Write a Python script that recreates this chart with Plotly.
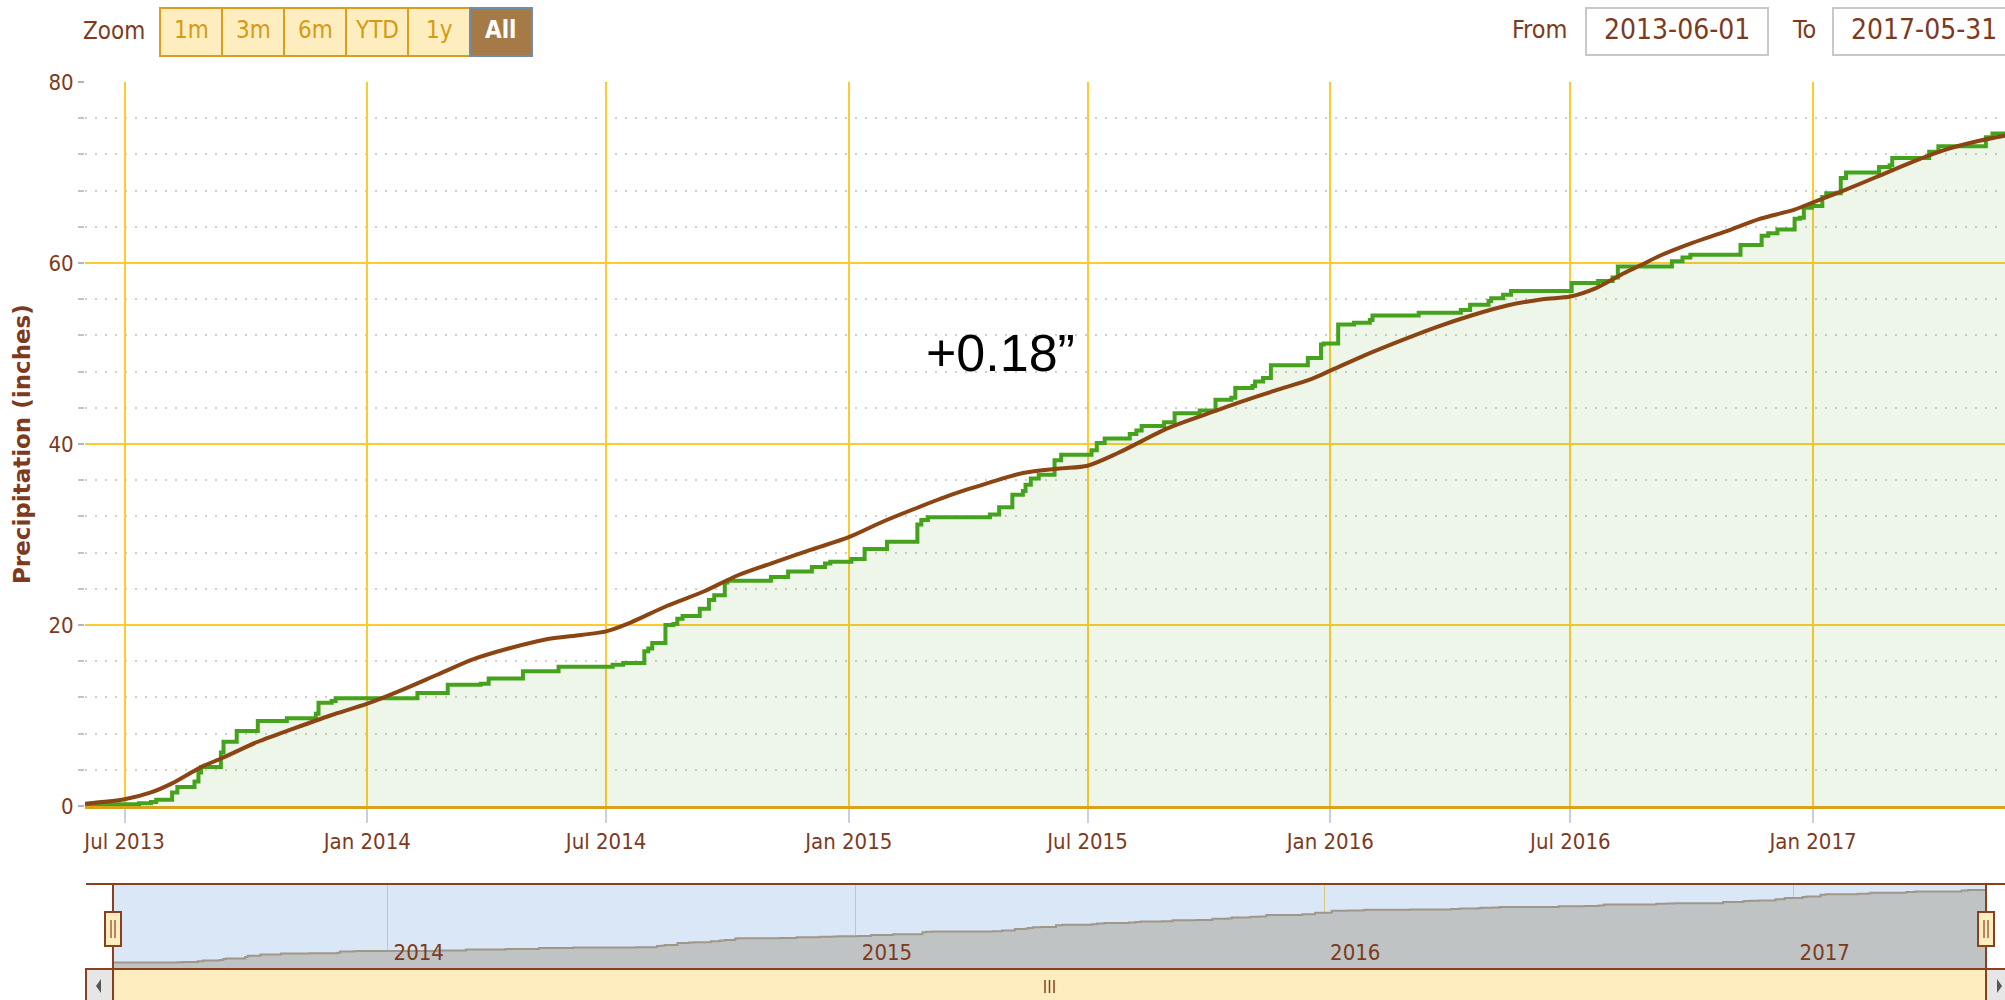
import plotly.graph_objects as go

W, H = 2005, 1000


def fx(p):
    return p / W


def fy(p):
    return 1 - p / H


# ---------------- data ----------------
obs_dates = [
    "2013-06-01", "2013-07-12", "2013-07-21", "2013-07-25", "2013-08-06", "2013-08-10",
    "2013-08-23", "2013-08-26", "2013-08-28", "2013-09-12", "2013-09-14", "2013-09-24",
    "2013-10-10", "2013-11-01", "2013-11-23", "2013-11-25", "2013-12-05", "2013-12-08",
    "2014-02-08", "2014-03-03", "2014-03-28", "2014-04-03", "2014-04-29", "2014-05-26",
    "2014-07-06", "2014-07-14", "2014-07-30", "2014-08-02", "2014-08-05", "2014-08-15",
    "2014-08-21", "2014-08-24", "2014-08-28", "2014-09-10", "2014-09-17", "2014-09-21",
    "2014-09-29", "2014-10-01", "2014-11-03", "2014-11-16", "2014-12-04", "2014-12-14",
    "2014-12-18", "2015-01-03", "2015-01-13", "2015-01-30", "2015-02-22", "2015-02-25",
    "2015-03-02", "2015-04-18", "2015-04-25", "2015-05-05", "2015-05-13", "2015-05-15",
    "2015-05-19", "2015-05-25", "2015-06-06", "2015-06-11", "2015-07-04", "2015-07-08",
    "2015-07-14", "2015-08-02", "2015-08-07", "2015-08-11", "2015-08-28", "2015-09-05",
    "2015-09-24", "2015-10-06", "2015-10-18", "2015-10-21", "2015-11-03", "2015-11-05",
    "2015-11-11", "2015-11-17", "2015-12-15", "2015-12-25", "2015-12-27", "2016-01-07",
    "2016-01-19", "2016-01-31", "2016-02-02", "2016-03-08", "2016-04-09", "2016-04-16",
    "2016-04-30", "2016-05-02", "2016-05-11", "2016-05-17", "2016-07-02", "2016-07-22",
    "2016-08-02", "2016-08-06", "2016-09-16", "2016-09-24", "2016-09-30", "2016-11-07",
    "2016-11-23", "2016-11-28", "2016-12-05", "2016-12-18", "2016-12-22", "2016-12-25",
    "2016-12-31", "2017-01-08", "2017-01-11", "2017-01-22", "2017-01-26", "2017-02-20",
    "2017-02-28", "2017-03-02", "2017-03-30", "2017-04-06", "2017-05-12", "2017-05-17",
    "2017-05-31",
]
obs_values = [
    0.2, 0.3, 0.45, 0.7, 1.5, 2.1,
    2.7, 3.7, 4.3, 5.9, 7.1, 8.3,
    9.4, 9.7, 10.2, 11.4, 11.6, 11.9,
    12.5, 13.4, 13.5, 14.1, 14.9, 15.4,
    15.6, 15.8, 17.1, 17.4, 18.0, 20.0,
    20.1, 20.7, 21.0, 21.8, 22.75, 23.3,
    24.7, 24.9, 25.3, 25.9, 26.4, 26.8,
    27.0, 27.3, 28.4, 29.2, 31.1, 31.6,
    31.9, 32.2, 33.0, 34.4, 34.8, 35.5,
    36.2, 36.6, 38.2, 38.8, 39.3, 40.1,
    40.6, 41.1, 41.5, 42.0, 42.4, 43.4,
    43.7, 44.9, 45.1, 46.2, 46.4, 46.9,
    47.3, 48.7, 49.5, 51.0, 51.1, 53.2,
    53.4, 53.7, 54.2, 54.5, 54.8, 55.4,
    55.8, 56.1, 56.5, 56.9, 57.8, 58.0,
    58.4, 59.6, 60.2, 60.6, 60.9, 62.0,
    63.0, 63.3, 63.7, 64.9, 65.0, 66.1,
    66.3, 67.3, 67.7, 69.4, 70.0, 70.6,
    70.8, 71.6, 72.3, 72.9, 73.9, 74.3,
    74.4,
]

norm_dates = [
    "2013-06-01", "2013-07-01", "2013-07-21", "2013-08-06", "2013-08-28", "2013-09-13",
    "2013-10-10", "2013-11-06", "2013-12-04", "2014-01-01", "2014-01-27", "2014-02-23",
    "2014-03-22", "2014-04-18", "2014-05-16", "2014-06-12", "2014-07-01", "2014-07-20",
    "2014-08-16", "2014-09-13", "2014-10-09", "2014-11-05", "2014-12-03", "2015-01-01",
    "2015-01-25", "2015-02-21", "2015-03-20", "2015-04-17", "2015-05-13", "2015-06-10",
    "2015-07-01", "2015-07-24", "2015-08-31", "2015-09-27", "2015-10-24", "2015-11-20",
    "2015-12-18", "2016-01-01", "2016-01-27", "2016-02-23", "2016-03-21", "2016-04-17",
    "2016-05-14", "2016-06-10", "2016-07-01", "2016-07-20", "2016-08-11", "2016-08-24",
    "2016-09-06", "2016-10-01", "2016-10-27", "2016-11-21", "2016-12-18", "2017-01-01",
    "2017-01-24", "2017-02-18", "2017-03-16", "2017-04-11", "2017-05-07", "2017-05-31",
]
norm_values = [
    0.26, 0.74, 1.5, 2.5, 4.3, 5.3,
    7.1, 8.55, 10.0, 11.3, 12.8, 14.5,
    16.2, 17.4, 18.4, 18.9, 19.3, 20.3,
    22.1, 23.7, 25.5, 26.9, 28.3, 29.7,
    31.3, 32.9, 34.4, 35.7, 36.8, 37.3,
    37.6, 39.0, 41.75, 43.2, 44.6, 45.9,
    47.2, 48.1, 49.8, 51.4, 52.9, 54.2,
    55.3, 56.0, 56.3, 57.2, 58.9, 59.8,
    60.75, 62.2, 63.5, 64.85, 65.9, 66.7,
    68.0, 69.5, 71.1, 72.5, 73.5, 74.2,
]

x_start = "2013-06-01"
x_end = "2017-05-31"
x_visible_end = "2017-05-26 12:00"
y_range = [0, 80]
nav_y_range = [-7.5, 80.5]
zoom_buttons = ["1m", "3m", "6m", "YTD", "1y", "All"]
from_label, from_value = "From", "2013-06-01"
to_label, to_value = "To", "2017-05-31"
diff_text = "+0.18\u201d"
y_title = "Precipitation (inches)"

# ---------------- styles ----------------
TXT = "#7d3a1d"
GOLD = "#fdca30"
AXIS_GOLD = "#d8a21c"
GREEN = "#45a21d"
BROWN = "#8b4513"
OUTLINE = "#8a3f1e"
PALE = "#feedbf"
FONT = "DejaVu Sans Condensed, Liberation Sans Narrow, DejaVu Sans, sans-serif"

fig = go.Figure()

fig.add_trace(go.Scatter(
    x=obs_dates, y=obs_values, mode="lines", xaxis="x", yaxis="y",
    line=dict(color=GREEN, width=4, shape="hv"),
    fill="tozeroy", fillcolor="rgba(95,170,50,0.11)", hoverinfo="skip", showlegend=False))
fig.add_trace(go.Scatter(
    x=norm_dates, y=norm_values, mode="lines", xaxis="x", yaxis="y",
    line=dict(color=BROWN, width=4, shape="spline", smoothing=0.8),
    hoverinfo="skip", showlegend=False))
# navigator
fig.add_trace(go.Scatter(
    x=[x_start, x_end], y=[nav_y_range[0], nav_y_range[0]], mode="lines",
    xaxis="x2", yaxis="y2", line=dict(width=0), hoverinfo="skip", showlegend=False))
fig.add_trace(go.Scatter(
    x=obs_dates, y=obs_values, mode="lines", xaxis="x2", yaxis="y2",
    line=dict(color="#a0978b", width=2, shape="hv"),
    fill="tonexty", fillcolor="#c0c3c4", hoverinfo="skip", showlegend=False))

shapes = []
annotations = []


def rect(x0, y0, x1, y1, fill, line, lw=1.5, layer="above"):
    shapes.append(dict(type="rect", xref="paper", yref="paper",
                       x0=fx(x0), x1=fx(x1), y0=fy(y0), y1=fy(y1),
                       fillcolor=fill, line=dict(color=line, width=lw), layer=layer))


def line(x0, y0, x1, y1, color, lw=1.5):
    shapes.append(dict(type="line", xref="paper", yref="paper",
                       x0=fx(x0), x1=fx(x1), y0=fy(y0), y1=fy(y1),
                       line=dict(color=color, width=lw)))


def text(x, y, s, size, color, xanchor="center", family=FONT):
    annotations.append(dict(xref="paper", yref="paper", x=fx(x), y=fy(y), text=s,
                            showarrow=False, xanchor=xanchor, yanchor="middle",
                            font=dict(size=size, color=color, family=family)))


# navigator background
shapes.append(dict(type="rect", xref="x2 domain", yref="y2 domain", x0=0, x1=1, y0=0, y1=1,
                   fillcolor="#dae7f7", line=dict(width=0), layer="below"))

# range selector
text(147, 31, "Zoom", 24, TXT, xanchor="right")
bx0, bw = 160, 62
for i, lab in enumerate(zoom_buttons):
    x0 = bx0 + i * bw
    if lab == "All":
        rect(x0, 8, x0 + bw, 56, "#a67a46", "#6f8eae", 2)
        text(x0 + bw / 2, 30, "<b>" + lab + "</b>", 24, "#ffffff")
    else:
        rect(x0, 8, x0 + bw, 56, PALE, "#d89e1c", 2)
        text(x0 + bw / 2, 30, lab, 24, "#d69a12")

# date inputs
text(1569, 29, from_label, 25, TXT, xanchor="right")
rect(1586, 8, 1768, 55, "#ffffff", "#c8c8c8", 2)
text(1677, 29, from_value, 28, TXT)
text(1790, 29, to_label, 25, TXT, xanchor="left")
rect(1833, 8, 2015, 55, "#ffffff", "#c8c8c8", 2)
text(1849, 29, to_value, 28, TXT, xanchor="left")

# navigator outline
line(86, 884, 2005, 884, OUTLINE, 2)
line(113, 884, 113, 969, OUTLINE, 2)
line(1986, 884, 1986, 969, OUTLINE, 2)

# scrollbar
rect(113, 969, 1986, 1003, PALE, OUTLINE, 2)
rect(86, 969, 113, 1003, "#e6e6e6", OUTLINE, 2)
rect(1986, 969, 2012, 1003, "#e6e6e6", OUTLINE, 2)
shapes.append(dict(type="path", xref="paper", yref="paper",
                   path="M %f %f L %f %f L %f %f Z" % (fx(101), fy(979), fx(96), fy(986), fx(101), fy(993)),
                   fillcolor="#555555", line=dict(width=0)))
shapes.append(dict(type="path", xref="paper", yref="paper",
                   path="M %f %f L %f %f L %f %f Z" % (fx(1997), fy(979), fx(2002), fy(986), fx(1997), fy(993)),
                   fillcolor="#555555", line=dict(width=0)))
for gx in (1045, 1049.5, 1054):
    line(gx, 980, gx, 993, OUTLINE, 1.5)

# handles
for hx in (113, 1986):
    rect(hx - 8, 912, hx + 8, 946, PALE, OUTLINE, 2)
    line(hx - 2, 920, hx - 2, 938, OUTLINE, 1.2)
    line(hx + 2, 920, hx + 2, 938, OUTLINE, 1.2)

# y title and diff note
annotations.append(dict(xref="paper", yref="paper", x=fx(22), y=fy(444), text="<b>" + y_title + "</b>",
                        textangle=-90, showarrow=False, xanchor="center", yanchor="middle",
                        font=dict(size=23, color=TXT, family="DejaVu Sans, sans-serif")))
annotations.append(dict(xref="paper", yref="paper", x=fx(1000), y=fy(353), text=diff_text,
                        showarrow=False, xanchor="center", yanchor="middle",
                        font=dict(size=52, color="#000000", family="Liberation Sans, Arial, sans-serif")))

fig.update_layout(
    width=W, height=H, margin=dict(l=0, r=0, t=0, b=0),
    paper_bgcolor="#ffffff", plot_bgcolor="rgba(0,0,0,0)",
    showlegend=False, hovermode=False,
    font=dict(family=FONT, color=TXT),
    xaxis=dict(
        domain=[fx(85), 1], range=[x_start, x_visible_end], type="date", anchor="y",
        tick0="2013-07-01", dtick="M6", tickformat="%b %Y",
        showgrid=True, gridcolor=GOLD, gridwidth=1.5,
        showline=True, linecolor=AXIS_GOLD, linewidth=3,
        ticks="outside", ticklen=14, tickwidth=1.5, tickcolor="#c3d1e2",
        tickfont=dict(size=22, color=TXT, family=FONT), zeroline=False, automargin=False,
        fixedrange=True),
    yaxis=dict(
        domain=[fy(806), fy(82)], range=y_range, anchor="x", dtick=20, tick0=0,
        showgrid=True, gridcolor=GOLD, gridwidth=2, zeroline=False, showline=False,
        ticks="outside", ticklen=6, tickwidth=2, tickcolor="#b5b5b5",
        tickfont=dict(size=22, color=TXT, family=FONT), automargin=False,
        minor=dict(dtick=4, tick0=0, showgrid=True, gridcolor="#cfcfcf", gridwidth=2,
                   griddash="2px,8px", ticks="outside", ticklen=6, tickwidth=2, tickcolor="#c4c4c4"),
        fixedrange=True),
    xaxis2=dict(
        domain=[fx(113), fx(1986)], range=[x_start, x_end], type="date", anchor="y2",
        tick0="2014-01-01", dtick="M12", tickformat="%Y",
        ticklabelposition="inside right", ticklabelshift=6, ticks="",
        showgrid=True, gridcolor="#d8c685", gridwidth=1, showline=False, zeroline=False,
        tickfont=dict(size=22, color=TXT, family=FONT), automargin=False, fixedrange=True),
    yaxis2=dict(
        domain=[fy(970), fy(884)], range=nav_y_range, anchor="x2",
        showgrid=False, showticklabels=False, zeroline=False, showline=False, ticks="",
        automargin=False, fixedrange=True),
    shapes=shapes,
    annotations=annotations,
)

fig.write_html("out.html", config={"displayModeBar": False},
               post_script="document.body.style.margin='0';document.body.style.overflow='hidden';")
